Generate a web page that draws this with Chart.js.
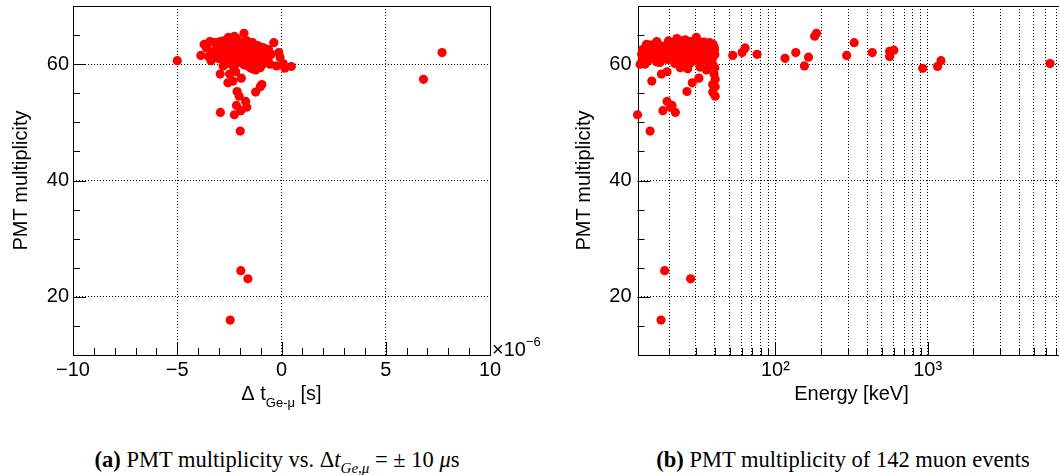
<!DOCTYPE html>
<html>
<head>
<meta charset="utf-8">
<script src="https://cdn.jsdelivr.net/npm/chart.js@4.4.1/dist/chart.umd.min.js"></script>
<style>
html, body { margin: 0; padding: 0; background: #fff; overflow: hidden; }
#wrap { position: relative; width: 1059px; height: 475px; overflow: hidden; }
canvas { position: absolute; top: 0; }
#chartA { left: 0; width: 560px; height: 420px; }
#chartB { left: 530px; width: 540px; height: 420px; }
.cap { position: absolute; top: 447px; width: 440px; font-family: "Liberation Serif", "DejaVu Serif", serif;
       font-size: 22.5px; text-align: center; white-space: nowrap; color: #000; }
.cap sub { font-size: 15px; }
</style>
</head>
<body>
<div id="wrap">
  <canvas id="chartA" width="560" height="420"></canvas>
  <canvas id="chartB" width="540" height="420"></canvas>
  <div class="cap" style="left:57px"><b>(a)</b> PMT multiplicity vs. Δ<i>t</i><sub><i>Ge</i>,<i>μ</i></sub> = ± 10 <i>μ</i>s</div>
  <div class="cap" style="left:623px"><b>(b)</b> PMT multiplicity of 142 muon events</div>
</div>
<script>
// one entry per muon event: PMT multiplicity, time difference (in 10^-6 s) and energy (keV)
const multiplicity = [
  61.5, 62.0, 62.8, 61.7, 61.0, 62.0, 59.7, 61.2, 64.8, 65.3,
  61.5, 63.7, 62.0, 62.2, 61.3, 62.4, 59.3, 59.6, 60.6, 60.1,
  51.3, 48.5, 57.1, 16.0, 24.5, 23.1, 52.0, 53.6, 52.9, 51.7,
  55.3, 56.8, 57.6, 56.5, 56.1, 54.5, 55.2, 57.4, 58.3, 58.3,
  52.6, 58.7, 60.6, 62.0,
  63.4, 63.9, 63.7, 63.8, 64.0, 63.8, 63.5, 63.7, 59.4, 59.0,
  59.4, 60.0, 60.0, 61.7, 63.0, 60.3,
  62.5, 61.8, 62.9, 61.2, 63.1, 62.2, 60.8, 62.7, 61.5, 63.4,
  62.0, 60.5, 62.6, 61.1, 63.0, 61.9, 60.2, 62.4, 61.0, 63.6,
  62.1, 60.7, 62.8, 61.4, 63.2, 62.3, 60.9, 62.9, 61.6, 59.8,
  62.5, 61.3, 63.3, 62.0, 60.4, 62.7, 61.7, 63.5, 62.2, 60.9,
  62.6, 61.4, 64.2, 63.0, 61.9, 60.6, 62.4, 63.8, 61.2, 62.8,
  60.3, 61.8, 63.1, 62.1, 61.0, 62.9, 61.5, 60.8, 64.4, 64.0,
  63.6, 62.2, 59.5, 59.9, 60.1, 61.3, 62.6, 60.4, 63.9, 61.6,
  62.3, 60.0, 63.2, 61.1, 62.8, 59.2, 64.6, 61.9, 60.7, 62.5,
  63.4, 59.7
];
const deltaT = [
  -3.87, -1.10, -0.86, -1.55, -2.05, -0.13, -0.24, -0.07, -2.26, -1.80,
  -2.70, -0.37, -1.30, -0.95, -1.75, -0.70, 0.16, 0.47, -3.38, 0.08,
  -2.26, -1.98, -2.33, -2.46, -1.95, -1.61, -1.95, -1.72, -2.16, -2.93,
  -2.13, -2.57, -1.93, -0.94, -1.02, -2.03, -1.24, 6.81, -2.94, -2.49,
  -1.67, -2.20, -5.00, 7.70,
  -3.71, -3.43, -3.20, -3.00, -2.78, -2.62, -2.00, -1.38, -1.02, -1.24,
  -1.50, -0.55, -0.90, -0.50, -1.60, -2.10,
  -2.95, -2.80, -2.60, -2.45, -2.35, -2.25, -2.15, -2.05, -1.95, -1.85,
  -1.75, -1.65, -1.55, -1.45, -1.35, -1.25, -1.15, -3.15, -3.05, -2.85,
  -2.70, -2.55, -2.40, -2.30, -2.20, -2.10, -2.00, -1.90, -1.80, -1.70,
  -1.60, -1.50, -1.40, -1.30, -1.20, -1.10, -3.30, -3.55, -3.25, -2.88,
  -2.68, -2.52, -2.38, -2.28, -2.18, -2.08, -1.98, -1.88, -1.78, -1.68,
  -1.58, -1.48, -1.38, -1.28, -1.18, -0.98, -0.80, -0.65, -2.15, -1.65,
  -2.45, -2.62, -2.30, -1.80, -2.60, -3.50, -0.75, -1.05, -2.92, -2.40,
  -1.92, -2.22, -1.15, -0.88, -3.60, -1.40, -2.55, -2.02, -1.32, -0.62,
  -2.72, -2.80
];
const energy = [
  52.4, 60.4, 63.2, 75.7, 115.6, 136, 155, 165, 181, 186,
  294, 329, 433, 563, 563, 600, 929, 1163, 1225, 6380,
  12.4, 15.0, 15.4, 17.7, 18.7, 27.7, 18.2, 19.4, 20.9, 22.0,
  26.2, 28.4, 31.4, 38.7, 40.2, 40.2, 38.7, 40.2, 39.5, 17.8,
  20.4, 19.4, 13.5, 25.0,
  14.2, 16.6, 21.4, 29.2, 23.7, 33.9, 26.0, 37.0, 23.7, 35.2,
  40.0, 12.9, 13.9, 13.2, 14.2, 17.4,
  14.8, 15.6, 16.3, 17.1, 17.9, 18.6, 19.3, 20.1, 20.8, 21.6,
  22.4, 23.1, 24.0, 24.9, 25.8, 26.7, 27.6, 28.5, 29.6, 30.6,
  31.7, 32.8, 33.9, 35.0, 36.2, 37.3, 38.5, 39.5, 40.0, 39.0,
  13.4, 14.0, 15.2, 16.0, 16.9, 18.0, 19.0, 20.0, 21.0, 22.0,
  23.2, 24.4, 25.5, 26.8, 28.0, 29.3, 30.5, 31.9, 33.2, 34.6,
  36.0, 37.4, 38.8, 39.6, 30.0, 33.0, 36.5, 27.0, 22.5, 19.8,
  35.5, 38.0, 32.0, 25.0, 21.8, 34.0, 39.8, 16.5, 27.5, 15.8,
  17.0, 37.8, 29.0, 21.2, 18.3, 26.5, 30.2, 33.5, 14.6, 24.5,
  39.0, 36.8
];

// axis ticks
const multTicks = [20, 40, 60];
const multMinor = [15, 25, 30, 35, 45, 50, 55, 65];
const dtTicks = [-10, -5, 0, 5, 10];
const energyDecades = [100, 1000];
const energyGrid = [20, 30, 40, 50, 60, 70, 80, 90, 100, 200, 300, 400, 500, 600, 700, 800, 900,
                    1000, 2000, 3000, 4000, 5000, 6000, 7000, 8000];

const FONT = '"Liberation Sans", Arial, sans-serif';
const tickFont = { family: FONT, size: 20 };

// ROOT style: frame plus tick marks pointing into the plot
const innerTicks = {
  id: 'innerTicks',
  beforeDatasetsDraw(chart, args, opts) {
    const { ctx, chartArea: a, scales } = chart;
    ctx.save();
    ctx.strokeStyle = '#000';
    ctx.lineWidth = 1;
    ctx.strokeRect(Math.round(a.left) + 0.5, Math.round(a.top) + 0.5,
                   Math.round(a.right - a.left), Math.round(a.bottom - a.top));
    ctx.beginPath();
    (opts.xMinor || []).forEach(v => {
      const px = Math.round(scales.x.getPixelForValue(v)) + 0.5;
      ctx.moveTo(px, a.bottom); ctx.lineTo(px, a.bottom - 7);
    });
    (opts.xMajor || []).forEach(v => {
      const px = Math.round(scales.x.getPixelForValue(v)) + 0.5;
      ctx.moveTo(px, a.bottom); ctx.lineTo(px, a.bottom - 13);
    });
    (opts.yMinor || []).forEach(v => {
      const py = Math.round(scales.y.getPixelForValue(v)) + 0.5;
      ctx.moveTo(a.left, py); ctx.lineTo(a.left + 7, py);
    });
    (opts.yMajor || []).forEach(v => {
      const py = Math.round(scales.y.getPixelForValue(v)) + 0.5;
      ctx.moveTo(a.left, py); ctx.lineTo(a.left + 13, py);
    });
    ctx.stroke();
    ctx.restore();
  }
};

// x title with subscript and the x10^-6 exponent of the left plot
const dtLabels = {
  id: 'dtLabels',
  afterDraw(chart) {
    const { ctx, chartArea: a } = chart;
    const big = '20px ' + FONT, small = '13px ' + FONT;
    ctx.save();
    ctx.fillStyle = '#000';
    ctx.textAlign = 'left';
    ctx.textBaseline = 'alphabetic';
    ctx.font = big;
    ctx.fillText('×10', a.right + 2, a.bottom + 1);
    const w = ctx.measureText('×10').width;
    ctx.font = small;
    ctx.fillText('−6', a.right + 2 + w, a.bottom - 9);
    const parts = [['Δ t', big, 0], ['Ge-μ', small, 7], [' [s]', big, 0]];
    let total = 0;
    parts.forEach(p => { ctx.font = p[1]; total += ctx.measureText(p[0]).width; });
    let x = (a.left + a.right) / 2 - total / 2;
    parts.forEach(p => {
      ctx.font = p[1];
      ctx.fillText(p[0], x, 400 + p[2]);
      x += ctx.measureText(p[0]).width;
    });
    ctx.restore();
  }
};

function noPadding(s) {
  s.paddingTop = 0; s.paddingBottom = 0; s.paddingLeft = 0; s.paddingRight = 0;
}

function multAxis(width, titlePad, labelPad) {
  return {
    type: 'linear', min: 10, max: 70,
    afterBuildTicks: s => { s.ticks = multTicks.map(v => ({ value: v })); },
    ticks: { font: tickFont, color: '#000', padding: labelPad, autoSkip: false },
    grid: { drawTicks: false, color: '#000', lineWidth: 1 },
    border: { display: false, dash: [1, 2] },
    title: { display: true, text: 'PMT multiplicity', color: '#000',
             font: { family: FONT, size: 20 }, padding: { top: titlePad, bottom: 0 } },
    afterFit: s => { s.width = width; noPadding(s); }
  };
}

const dotStyle = {
  backgroundColor: '#ff0000', pointRadius: 4.6, pointHoverRadius: 4.6,
  borderWidth: 0, pointBorderWidth: 0, clip: false
};

const dtMinor = [];
for (let v = -9; v <= 9; v++) if (v % 5 !== 0) dtMinor.push(v);

new Chart(document.getElementById('chartA'), {
  type: 'scatter',
  data: {
    datasets: [Object.assign({
      data: deltaT.map((x, i) => ({ x: x, y: multiplicity[i] }))
    }, dotStyle)]
  },
  options: {
    responsive: false, animation: false, events: [], devicePixelRatio: 1,
    layout: { padding: { top: 6, right: 70, bottom: 0, left: 0 } },
    plugins: {
      legend: { display: false }, tooltip: { enabled: false },
      innerTicks: { xMinor: dtMinor, xMajor: [-5, 0, 5], yMinor: multMinor, yMajor: multTicks }
    },
    scales: {
      x: {
        type: 'linear', min: -10, max: 10,
        afterBuildTicks: s => { s.ticks = dtTicks.map(v => ({ value: v })); },
        ticks: { font: tickFont, color: '#000', padding: 3, autoSkip: false, maxRotation: 0,
                 callback: v => (v < 0 ? '\u2212' + Math.abs(v) : String(v)) },
        grid: { drawTicks: false, lineWidth: 1,
                color: c => (c.tick && Math.abs(c.tick.value) < 10 ? '#000' : 'rgba(0,0,0,0)') },
        border: { display: false, dash: [1, 2] },
        afterFit: s => { s.height = 65; noPadding(s); }
      },
      y: multAxis(73, 9, 4)
    }
  },
  plugins: [innerTicks, dtLabels]
});

const energyMinor = energyGrid.filter(v => !energyDecades.includes(v));

new Chart(document.getElementById('chartB'), {
  type: 'scatter',
  data: {
    datasets: [Object.assign({
      data: energy.map((x, i) => ({ x: x, y: multiplicity[i] }))
    }, dotStyle)]
  },
  options: {
    responsive: false, animation: false, events: [], devicePixelRatio: 1,
    layout: { padding: { top: 6, right: 4, bottom: 0, left: 0 } },
    plugins: {
      legend: { display: false }, tooltip: { enabled: false },
      innerTicks: { xMinor: energyMinor, xMajor: energyDecades, yMinor: multMinor, yMajor: multTicks }
    },
    scales: {
      x: {
        type: 'logarithmic', min: 12.4, max: 8050,
        afterBuildTicks: s => { s.ticks = energyGrid.map(v => ({ value: v })); },
        ticks: { font: tickFont, color: '#000', padding: 3, autoSkip: false, maxRotation: 0,
                 callback: v => (v === 100 ? '10²' : v === 1000 ? '10³' : '') },
        grid: { drawTicks: false, lineWidth: 1, color: '#000' },
        border: { display: false, dash: [1, 2] },
        title: { display: true, text: 'Energy [keV]', color: '#000',
                 font: { family: FONT, size: 20 }, padding: { top: 0, bottom: 14 } },
        afterFit: s => { s.height = 65; noPadding(s); }
      },
      y: multAxis(107.5, 42, 6)
    }
  },
  plugins: [innerTicks]
});
</script>
</body>
</html>
